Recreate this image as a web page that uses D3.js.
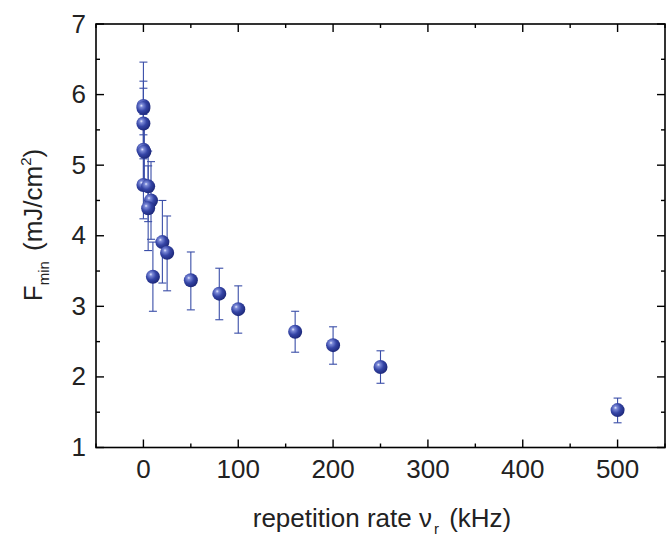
<!DOCTYPE html>
<html><head><meta charset="utf-8">
<script src="https://cdn.jsdelivr.net/npm/d3@7"></script>
<style>body{margin:0;background:#fff}svg{display:block}</style>
</head><body><svg id="c" width="671" height="537"></svg>
<script>
const rate = [0, 0, 0, 0, 0, 1, 5, 8, 5, 10, 20, 25, 50, 80, 100, 160, 200, 250, 500];
const fmin = [5.84, 5.81, 5.59, 5.22, 4.72, 5.19, 4.70, 4.50, 4.39, 3.42, 3.91, 3.76, 3.37, 3.18, 2.96, 2.64, 2.45, 2.14, 1.53];
const errUp = [0.62, 0.38, 0.5, 0.5, 0.5, 0.45, 0.5, 0.55, 0.6, 0.49, 0.59, 0.52, 0.40, 0.36, 0.33, 0.29, 0.26, 0.23, 0.17];
const errDn = [0.62, 0.38, 0.5, 0.5, 0.48, 0.45, 0.5, 0.55, 0.6, 0.49, 0.58, 0.54, 0.42, 0.37, 0.34, 0.29, 0.27, 0.23, 0.18];
const xTicks = [0, 100, 200, 300, 400, 500];
const yTicks = [1, 2, 3, 4, 5, 6, 7];

const svg = d3.select("#c");
const L = 96, R = 665, T = 24, B = 447.5;
const x = d3.scaleLinear().domain([-50, 550]).range([L, R]);
const y = d3.scaleLinear().domain([1, 7]).range([B, T]);
const font = "'Liberation Sans', Arial, sans-serif";

const defs = svg.append("defs");
const g = defs.append("radialGradient").attr("id", "ball").attr("cx", "0.38").attr("cy", "0.38").attr("r", "0.65").attr("fx","0.35").attr("fy","0.33");
g.append("stop").attr("offset", "0").attr("stop-color", "#e8ecff");
g.append("stop").attr("offset", "0.18").attr("stop-color", "#7c8ad8");
g.append("stop").attr("offset", "0.55").attr("stop-color", "#3545a6");
g.append("stop").attr("offset", "1").attr("stop-color", "#1c2778");

const minorX = d3.range(-50, 551, 50);
const minorY = d3.range(1, 7.01, 0.5);
const ax = svg.append("g").attr("stroke", "#000").attr("stroke-width", 1.4);
minorX.forEach(v => {
  const len = (v % 100 === 0) ? 8 : 4;
  ax.append("line").attr("x1", x(v)).attr("x2", x(v)).attr("y1", B).attr("y2", B - len);
  ax.append("line").attr("x1", x(v)).attr("x2", x(v)).attr("y1", T).attr("y2", T + len);
});
minorY.forEach(v => {
  const len = (Math.abs(v - Math.round(v)) < 1e-6) ? 8 : 4;
  ax.append("line").attr("y1", y(v)).attr("y2", y(v)).attr("x1", L).attr("x2", L + len);
  ax.append("line").attr("y1", y(v)).attr("y2", y(v)).attr("x1", R).attr("x2", R - len);
});
svg.append("rect").attr("x", L).attr("y", T).attr("width", R - L).attr("height", B - T)
  .attr("fill", "none").attr("stroke", "#000").attr("stroke-width", 1.6);

svg.append("g").selectAll("text").data(xTicks).join("text")
  .attr("x", d => x(d)).attr("y", 478).attr("text-anchor", "middle")
  .attr("font-family", font).attr("font-size", 26).attr("fill", "#222").text(d => d);
svg.append("g").selectAll("text").data(yTicks).join("text")
  .attr("x", 86).attr("y", d => y(d) + 8.5).attr("text-anchor", "end")
  .attr("font-family", font).attr("font-size", 26).attr("fill", "#222").text(d => d);

const xt = svg.append("text").attr("x", 382).attr("y", 527).attr("text-anchor", "middle")
  .attr("font-family", font).attr("font-size", 26).attr("fill", "#222");
xt.append("tspan").text("repetition rate \u03bd");
xt.append("tspan").attr("font-size", 15).attr("dy", 7).attr("dx", 2).text("r");
xt.append("tspan").attr("dy", -7).attr("dx", 3).text(" (kHz)");

const yt = svg.append("text").attr("transform", "translate(42,225) rotate(-90)").attr("text-anchor", "middle")
  .attr("font-family", font).attr("font-size", 26).attr("fill", "#222");
yt.append("tspan").text("F");
yt.append("tspan").attr("font-size", 15).attr("dy", 7).text("min");
yt.append("tspan").attr("dy", -7).attr("dx", 3).text(" (mJ/cm");
yt.append("tspan").attr("font-size", 15).attr("dy", -11).text("2");
yt.append("tspan").attr("dy", 11).text(")");

const data = rate.map((r, i) => ({r, f: fmin[i], up: errUp[i], dn: errDn[i]}));
const eb = svg.append("g").attr("stroke", "#3a4ea8").attr("stroke-width", 1.1);
data.forEach(d => {
  const cx = x(d.r);
  eb.append("line").attr("x1", cx).attr("x2", cx).attr("y1", y(d.f + d.up)).attr("y2", y(d.f - d.dn));
  eb.append("line").attr("x1", cx - 4).attr("x2", cx + 4).attr("y1", y(d.f + d.up)).attr("y2", y(d.f + d.up));
  eb.append("line").attr("x1", cx - 4).attr("x2", cx + 4).attr("y1", y(d.f - d.dn)).attr("y2", y(d.f - d.dn));
});
svg.append("g").selectAll("circle").data(data).join("circle")
  .attr("cx", d => x(d.r)).attr("cy", d => y(d.f)).attr("r", 7)
  .attr("fill", "url(#ball)");
</script></body></html>
